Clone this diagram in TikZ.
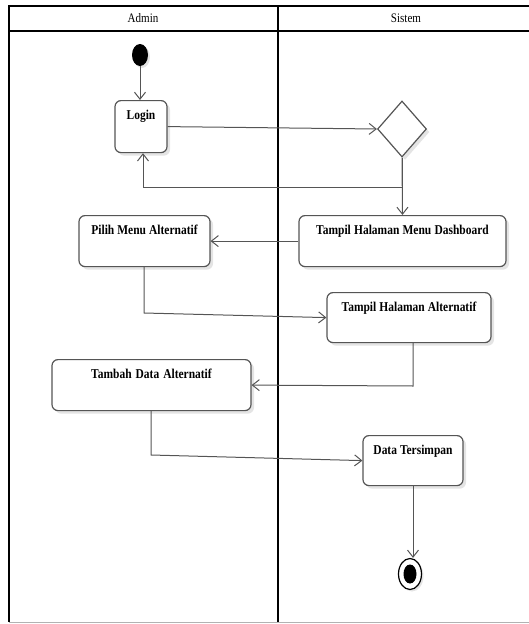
\documentclass[tikz,border=0pt]{standalone}
\usepackage{fontspec}
\setmainfont{Liberation Serif}
\newfontfamily\lblfont[FakeStretch=0.85]{Liberation Serif}
\usetikzlibrary{arrows.meta,shapes.geometric,calc,shadows}
\definecolor{linec}{HTML}{555555}
\definecolor{shadowc}{HTML}{E4E4E4}
\newcommand\acttext[1]{\spaceskip=2.6pt plus 1pt minus 1pt\relax #1}
\tikzset{
  act/.style={draw=linec, line width=1.2pt, rounded corners=6pt, fill=white, inner sep=0pt, align=center,
    font=\lblfont\bfseries\fontsize{13.5}{15}\selectfont, text height=19pt,
    drop shadow={shadow xshift=3pt, shadow yshift=-3pt, fill=shadowc, opacity=1}},
  flow/.style={draw=linec, line width=1pt, -{Straight Barb[length=7pt,width=11pt,line width=1pt]}},
  lane/.style={draw=black, line width=1.6pt},
  hdr/.style={font=\lblfont\fontsize{13}{15}\selectfont, inner sep=0pt}
}
\begin{document}
\begin{tikzpicture}[x=1pt,y=-1pt]
\useasboundingbox (0,0) rectangle (529,624);
% frame
\draw[lane] (529,6) -- (9,6) -- (9,622);
\draw[lane] (9,31) -- (529,31);
\draw[lane] (278,6) -- (278,622);
\draw[draw=gray!60, line width=1pt] (9,622) -- (529,622);
\node[hdr] (hA) at (143,18) {Admin};
\node[hdr] (hS) at (406,18) {Sistem};
% start
\node[draw=none, fill=black, ellipse, minimum width=16pt, minimum height=22pt, inner sep=0pt,
  drop shadow={shadow xshift=2pt, shadow yshift=-2pt, fill=shadowc, opacity=1}] (start) at (140,55) {};
% nodes
\node[act, text width=52pt, text depth=33pt] (login) at (141,100) [anchor=north] {\acttext{Login}};
\node[draw=linec, line width=1.2pt, diamond, aspect=0.86, minimum width=49pt, minimum height=56pt, inner sep=0pt, fill=white,
  drop shadow={shadow xshift=3pt, shadow yshift=-3pt, fill=shadowc, opacity=1}] (dec) at (402,129) {};
\node[act, text width=207pt, text depth=32pt] (dash) at (402.5,215) [anchor=north] {\acttext{Tampil Halaman Menu Dashboard}};
\node[act, text width=131pt, text depth=32pt] (pilih) at (144.5,215) [anchor=north] {\acttext{Pilih Menu Alternatif}};
\node[act, text width=164pt, text depth=31pt] (talt) at (409,292) [anchor=north] {\acttext{Tampil Halaman Alternatif}};
\node[act, text width=199pt, text depth=32pt] (tambah) at (151.5,359) [anchor=north] {\acttext{Tambah Data Alternatif}};
\node[act, text width=100pt, text depth=31pt] (data) at (413,435) [anchor=north] {\acttext{Data Tersimpan}};
\node[draw=black, line width=1.2pt, ellipse, minimum width=23pt, minimum height=31pt, inner sep=0pt, fill=white,
  drop shadow={shadow xshift=2pt, shadow yshift=-2pt, fill=shadowc, opacity=1}] (end) at (410,574) {};
\node[fill=black, ellipse, minimum width=13pt, minimum height=19pt, inner sep=0pt] (endin) at (end.center) {};
% helper coordinates
\coordinate (r1) at (143,187);
\coordinate (r2) at (144,313);
\coordinate (r3) at (413,386);
\coordinate (r4) at (151,455);
% connectors
\draw[flow] (start.south) -- (start.south |- login.north);
\draw[flow] (login.east) -- (dec.west);
\draw[flow] (dec.south) |- (r1) -- (r1 |- login.south);
\draw[flow] (dec.south) -- (dash.north);
\draw[flow] (dash.west) -- (pilih.east);
\draw[flow] (r2 |- pilih.south) -- (r2) -- (talt.west);
\draw[flow] (r3 |- talt.south) -- (r3) -- (tambah.east);
\draw[flow] (r4 |- tambah.south) -- (r4) -- (data.west);
\draw[flow] (data.south) -- (data.south |- end.north);
\end{tikzpicture}
\end{document}
